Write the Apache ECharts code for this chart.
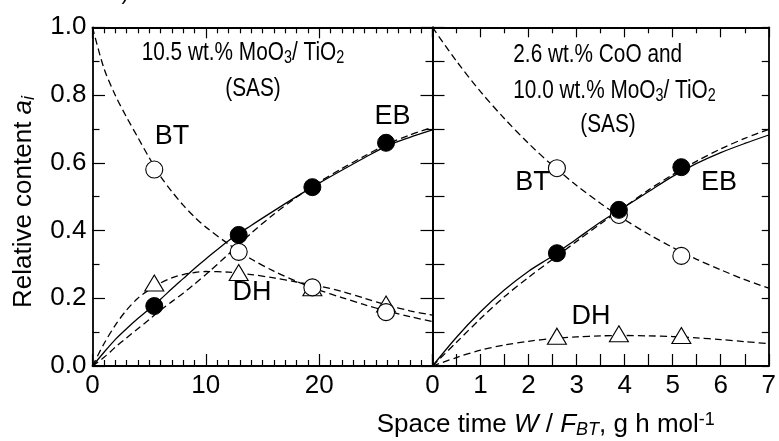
<!DOCTYPE html>
<html>
<head>
<meta charset="utf-8">
<script src="https://cdn.jsdelivr.net/npm/echarts@6/dist/echarts.min.js"></script>
<style>
html,body{margin:0;padding:0;background:#fff;}
#c{width:779px;height:441px;}
</style>
</head>
<body>
<div id="c"></div>
<script>
// ---- Left panel: 10.5 wt.% MoO3/TiO2 (SAS), x in 0..30 ----
const leftT  = [5.45, 12.9, 19.4, 25.9];
const leftBT = [0.58, 0.337, 0.232, 0.159];
const leftEB = [0.177, 0.387, 0.528, 0.659];
const leftDH = [0.245, 0.276, 0.231, 0.183];

const leftCurveT   = [0,1,2,3,4,5,6,7,8,9,10,12,14,16,18,20,22,24,26,28,30];
const leftBTfit    = [1.0,0.88,0.80,0.735,0.675,0.615,0.56,0.515,0.475,0.44,0.41,0.36,0.316,0.28,0.25,0.224,0.202,0.181,0.162,0.146,0.131];
const leftEBsolid  = [0,0.04,0.078,0.11,0.14,0.168,0.197,0.228,0.258,0.288,0.316,0.37,0.415,0.458,0.5,0.54,0.578,0.615,0.65,0.675,0.697];
const leftEBdash   = [0,0.025,0.055,0.083,0.11,0.137,0.165,0.19,0.215,0.242,0.27,0.33,0.392,0.448,0.498,0.543,0.583,0.62,0.655,0.682,0.705];
const leftDHfit    = [0,0.065,0.12,0.165,0.2,0.225,0.245,0.26,0.27,0.276,0.279,0.277,0.27,0.26,0.248,0.236,0.22,0.2,0.18,0.163,0.15];

// ---- Right panel: 2.6 wt.% CoO and 10.0 wt.% MoO3/TiO2 (SAS), x in 0..7 ----
const rightT  = [2.59, 3.88, 5.18];
const rightBT = [0.584, 0.446, 0.325];
const rightEB = [0.333, 0.461, 0.587];
const rightDH = [0.088, 0.095, 0.09];

const rightCurveT  = [0,0.5,1,1.5,2,2.5,3,3.5,4,4.5,5,5.5,6,6.5,7];
const rightBTfit   = [1.0,0.90,0.81,0.73,0.657,0.592,0.533,0.48,0.432,0.389,0.35,0.315,0.284,0.255,0.23];
const rightEBsolid = [0,0.085,0.16,0.225,0.28,0.325,0.375,0.425,0.47,0.515,0.56,0.598,0.63,0.657,0.682];
const rightEBdash  = [0,0.07,0.14,0.205,0.262,0.315,0.368,0.42,0.47,0.52,0.565,0.605,0.641,0.672,0.699];
const rightDHfit   = [0,0.025,0.047,0.062,0.073,0.081,0.086,0.089,0.09,0.089,0.087,0.083,0.078,0.072,0.066];

const leftXTicks  = [0, 10, 20];
const rightXTicks = [0, 1, 2, 3, 4, 5, 6, 7];

// ---------------------------------------------------------------
const FONT = '"Liberation Sans", Arial, sans-serif';
const zip = (xs, ys) => xs.map((x, i) => [x, ys[i]]);
const chart = echarts.init(document.getElementById('c'), null, {renderer: 'canvas'});

const axisLine = {show: true, onZero: false, lineStyle: {color: '#000', width: 1.8}};
function xAx(grid, max, interval, split, pos, majLen, minLen, showLabels, ticks) {
  return {
    type: 'value', gridIndex: grid, position: pos, min: 0, max: max, interval: interval,
    axisLine: axisLine,
    axisTick: {show: true, inside: true, length: majLen, lineStyle: {color: '#000', width: 1.2}},
    minorTick: {show: true, splitNumber: split, length: minLen, lineStyle: {color: '#000', width: 1.2}},
    splitLine: {show: false}, minorSplitLine: {show: false},
    axisLabel: {show: showLabels, fontFamily: FONT, fontSize: 26, color: '#000', margin: 7,
      showMinLabel: true, showMaxLabel: true,
      formatter: v => (ticks.indexOf(v) >= 0 ? String(v) : '')}
  };
}
function yAx(grid, pos, majLen, minLen, showLabels) {
  return {
    type: 'value', gridIndex: grid, position: pos, min: 0, max: 1, interval: 0.2,
    axisLine: axisLine,
    axisTick: {show: true, inside: true, length: majLen, lineStyle: {color: '#000', width: 1.2}},
    minorTick: {show: true, splitNumber: 2, length: minLen, lineStyle: {color: '#000', width: 1.2}},
    splitLine: {show: false}, minorSplitLine: {show: false},
    axisLabel: {show: showLabels, fontFamily: FONT, fontSize: 26, color: '#000', margin: 6,
      formatter: v => v.toFixed(1)}
  };
}

function curve(xi, yi, xs, ys, dashed) {
  return {
    type: 'line', xAxisIndex: xi, yAxisIndex: yi, data: zip(xs, ys),
    showSymbol: false, symbol: 'none', smooth: 0.3, silent: true, z: 2,
    lineStyle: {color: '#000', width: 1.3, type: dashed ? [7, 4] : 'solid'}
  };
}
function pts(xi, yi, xs, ys, kind) {
  const s = {type: 'scatter', xAxisIndex: xi, yAxisIndex: yi, data: zip(xs, ys), silent: true};
  if (kind === 'open') {
    Object.assign(s, {symbol: 'circle', symbolSize: 17, z: 4,
      itemStyle: {color: '#fff', borderColor: '#000', borderWidth: 1.1, opacity: 1}});
  } else if (kind === 'filled') {
    Object.assign(s, {symbol: 'circle', symbolSize: 17, z: 5,
      itemStyle: {color: '#000', borderColor: '#000', borderWidth: 1, opacity: 1}});
  } else {
    Object.assign(s, {symbol: 'triangle', symbolSize: [19, 16], z: 3,
      itemStyle: {color: '#fff', borderColor: '#000', borderWidth: 1.1, opacity: 1}});
  }
  return s;
}

const rich = {
  n:   {fontFamily: FONT, fontSize: 26, color: '#000'},
  sub: {fontFamily: FONT, fontSize: 18, color: '#000', verticalAlign: 'bottom', padding: [10, 0, 0, 0]},
};
function txt(x, y, text, size, align, r, sx) {
  return {type: 'text', x: x, y: y, silent: true, z: 10, scaleX: sx || 1,
    style: {text: text, fontFamily: FONT, fontSize: size, fill: '#000',
      align: align || 'center', verticalAlign: 'middle', rich: r}};
}
const NARROW = 0.8;

const option = {
  animation: false,
  backgroundColor: '#fff',
  grid: [
    {left: 92.5, top: 27.3, width: 340, height: 338.7},
    {left: 432.5, top: 27.3, width: 340, height: 338.7}
  ],
  xAxis: [
    xAx(0, 30, 10, 10, 'bottom', 12, 6, true, leftXTicks),
    xAx(0, 30, 10, 10, 'top', 11, 6, false, leftXTicks),
    xAx(1, 7, 1, 2, 'bottom', 12, 12, true, rightXTicks),
    xAx(1, 7, 1, 2, 'top', 10, 6, false, rightXTicks)
  ],
  yAxis: [
    yAx(0, 'left', 12.5, 7, true),
    yAx(0, 'right', 12, 7, false),
    yAx(1, 'left', 12, 12, false),
    yAx(1, 'right', 7, 7, false)
  ],
  series: [
    curve(0, 0, leftCurveT, leftBTfit, true),
    curve(0, 0, leftCurveT, leftEBsolid, false),
    curve(0, 0, leftCurveT, leftEBdash, true),
    curve(0, 0, leftCurveT, leftDHfit, true),
    pts(0, 0, leftT, leftDH, 'tri'),
    pts(0, 0, leftT, leftBT, 'open'),
    pts(0, 0, leftT, leftEB, 'filled'),

    curve(2, 2, rightCurveT, rightBTfit, true),
    curve(2, 2, rightCurveT, rightEBsolid, false),
    curve(2, 2, rightCurveT, rightEBdash, true),
    curve(2, 2, rightCurveT, rightDHfit, true),
    pts(2, 2, rightT, rightDH, 'tri'),
    pts(2, 2, rightT, rightBT, 'open'),
    pts(2, 2, rightT, rightEB, 'filled')
  ],
  graphic: [
    // left panel annotations
    txt(141.7, 53, '{n|10.5 wt.% MoO}{sub|3}{n|/ TiO}{sub|2}', 26, 'left', rich, NARROW),
    txt(253, 89, '(SAS)', 26, 'center', null, NARROW),
    txt(172, 137, 'BT', 27),
    txt(392.5, 117, 'EB', 27),
    txt(252, 293, 'DH', 27),
    // right panel annotations
    txt(513.3, 55, '2.6 wt.% CoO and', 26, 'left', null, NARROW),
    txt(513.3, 91, '{n|10.0 wt.% MoO}{sub|3}{n|/ TiO}{sub|2}', 26, 'left', rich, NARROW),
    txt(608, 125, '(SAS)', 26, 'center', null, NARROW),
    txt(532.5, 183, 'BT', 27),
    txt(719, 183, 'EB', 27),
    txt(591, 317, 'DH', 27),
    // axis titles
    {type: 'text', x: 24, y: 202, rotation: Math.PI / 2, silent: true, z: 10,
      style: {text: '{n|Relative content }{i|a}{s|i}', align: 'center', verticalAlign: 'middle',
        rich: {
          n: {fontFamily: FONT, fontSize: 26, color: '#000'},
          i: {fontFamily: FONT, fontSize: 26, fontStyle: 'italic', color: '#000'},
          s: {fontFamily: FONT, fontSize: 18, fontStyle: 'italic', color: '#000', verticalAlign: 'bottom', padding: [10, 0, 0, 0]}
        }}},
    {type: 'text', x: 376.7, y: 425, silent: true, z: 10,
      style: {text: '{n|Space time }{i|W}{n| / }{i|F}{s|BT}{n|, g h mol}{p|-1}', align: 'left', verticalAlign: 'middle',
        rich: {
          n: {fontFamily: FONT, fontSize: 26, color: '#000'},
          i: {fontFamily: FONT, fontSize: 26, fontStyle: 'italic', color: '#000'},
          s: {fontFamily: FONT, fontSize: 18, fontStyle: 'italic', color: '#000', verticalAlign: 'bottom', padding: [10, 0, 0, 0]},
          p: {fontFamily: FONT, fontSize: 18, color: '#000', verticalAlign: 'top', padding: [0, 0, 10, 0]}
        }}},
    // cropped fragment at the top edge of the original figure
    txt(125, -6, ')', 21)
  ]
};
chart.setOption(option);
</script>
</body>
</html>
